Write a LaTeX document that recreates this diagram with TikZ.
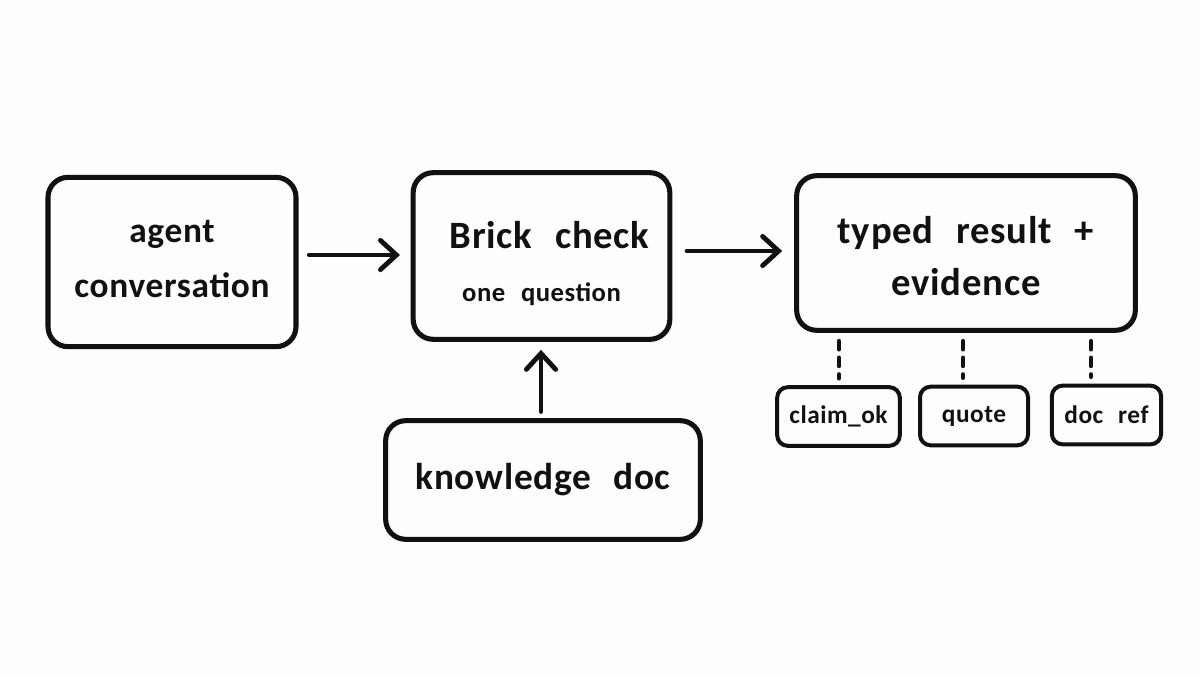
\documentclass[tikz,border=0pt]{standalone}
\usepackage{fontspec}
\setmainfont[WordSpace=2.4, LetterSpace=2]{Carlito}
\usetikzlibrary{arrows.meta}
\definecolor{ink}{HTML}{111111}
\definecolor{paper}{HTML}{FDFDFD}
\tikzstyle{bigbox} = [rectangle, line width = 3.8pt, rounded corners = 15pt, draw = ink, text = ink, align = center, inner sep = 0pt]
\tikzstyle{smallbox} = [rectangle, line width = 3pt, rounded corners = 8pt, draw = ink, text = ink, align = center, inner sep = 0pt, minimum height = 44pt, font = \fontsize{19}{22}\selectfont\bfseries]
\tikzstyle{arrow} = [line width = 3.6pt, draw = ink, line cap = round, -{Straight Barb[length = 12pt, width = 22pt, line cap = round]}]
\tikzstyle{tie} = [line width = 3pt, draw = ink, line cap = round, dash pattern = on 6.5pt off 6pt, shorten < = 6pt, shorten > = 5pt]
\begin{document}
\begin{tikzpicture}[x = 0.75pt, y = -0.75pt]
	\useasboundingbox [fill = paper] (0,0) rectangle (1200,675);
	\node (agent)[bigbox, minimum width = 186pt, minimum height = 127pt, font = \fontsize{26.5}{41}\selectfont\bfseries] at (172,262){agent\\conversation\rule[-5pt]{0pt}{0pt}};
	\node (brick)[bigbox, minimum width = 192.5pt, minimum height = 125pt] at (541.5,256){\bfseries\fontsize{29}{29}\selectfont\rule{0pt}{32pt}\hspace*{12pt}Brick check\\[24.5pt]\bfseries\fontsize{20}{20}\selectfont one question};
	\node (typed)[bigbox, minimum width = 254pt, minimum height = 116pt, font = \fontsize{29}{39}\selectfont\bfseries] at (966,253){\rule{0pt}{24.5pt}typed result +\\evidence};
	\node (know)[bigbox, minimum width = 236pt, minimum height = 89pt, font = \fontsize{28}{34}\selectfont\bfseries] at (543,480){knowledge doc};
	\node (claim)[smallbox, minimum width = 92pt] at (838.5,416.5){claim\_ok};
	\node (quote)[smallbox, minimum width = 81pt] at (974,416){quote};
	\node (ref)[smallbox, minimum width = 82pt] at (1106.5,415){doc ref};

	\draw [arrow, shorten < = 8pt, shorten > = 8pt] (agent.east |- 0,255) -- (brick.west |- 0,255);
	\draw [arrow, shorten < = 11pt, shorten > = 9pt] (brick.east |- 0,251) -- (typed.west |- 0,251);
	\draw [arrow, shorten < = 5pt, shorten > = 6pt] (know.north -| 541,0) -- (brick.south -| 541,0);

	\draw [tie] (typed.south -| 839,0) -- (claim.north -| 839,0);
	\draw [tie] (typed.south -| 963,0) -- (quote.north -| 963,0);
	\draw [tie] (typed.south -| 1091,0) -- (ref.north -| 1091,0);
\end{tikzpicture}
\end{document}
